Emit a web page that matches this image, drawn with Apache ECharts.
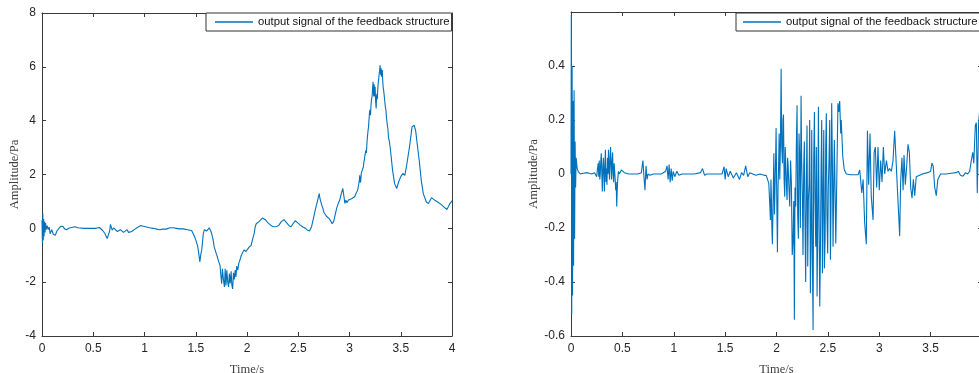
<!DOCTYPE html>
<html>
<head>
<meta charset="utf-8">
<script src="https://cdn.jsdelivr.net/npm/echarts@6/dist/echarts.min.js"></script>
<style>
html,body{margin:0;padding:0;background:#fff;}
#chart{width:979px;height:373px;}
</style>
</head>
<body>
<div id="chart"></div>
<script>
const seriesName = 'output signal of the feedback structure';
const xAxisName = 'Time/s';
const yAxisName = 'Amplitude/Pa';

const leftTime = [0.000,0.004,0.008,0.012,0.016,0.020,0.025,0.030,0.035,0.040,0.050,0.060,0.070,0.080,0.095,0.110,0.130,0.145,0.165,0.175,0.185,0.195,0.205,0.220,0.240,0.260,0.290,0.320,0.350,0.410,0.480,0.530,0.560,0.590,0.615,0.636,0.652,0.660,0.668,0.678,0.685,0.700,0.717,0.735,0.750,0.765,0.780,0.795,0.810,0.830,0.845,0.860,0.875,0.890,0.910,0.930,0.960,0.990,1.020,1.050,1.085,1.120,1.150,1.180,1.210,1.250,1.280,1.310,1.340,1.380,1.420,1.460,1.490,1.510,1.520,1.530,1.540,1.550,1.558,1.574,1.585,1.597,1.605,1.616,1.632,1.645,1.655,1.668,1.680,1.690,1.700,1.710,1.720,1.730,1.737,1.745,1.753,1.760,1.770,1.780,1.787,1.795,1.803,1.812,1.820,1.828,1.836,1.845,1.852,1.860,1.868,1.876,1.885,1.892,1.900,1.910,1.920,1.930,1.945,1.960,1.970,1.980,1.990,2.000,2.020,2.040,2.055,2.070,2.080,2.090,2.105,2.120,2.135,2.150,2.165,2.180,2.200,2.230,2.250,2.270,2.290,2.310,2.335,2.360,2.375,2.390,2.410,2.430,2.450,2.470,2.490,2.520,2.545,2.570,2.590,2.610,2.630,2.650,2.665,2.680,2.690,2.698,2.705,2.712,2.720,2.730,2.740,2.750,2.760,2.775,2.790,2.805,2.820,2.830,2.845,2.860,2.875,2.890,2.905,2.920,2.935,2.945,2.955,2.965,2.975,2.990,3.005,3.020,3.035,3.050,3.065,3.080,3.088,3.095,3.100,3.105,3.110,3.115,3.120,3.127,3.135,3.140,3.145,3.152,3.160,3.165,3.170,3.175,3.180,3.185,3.190,3.195,3.200,3.205,3.210,3.215,3.220,3.225,3.230,3.234,3.237,3.240,3.243,3.247,3.250,3.255,3.260,3.264,3.268,3.272,3.275,3.280,3.285,3.290,3.295,3.298,3.302,3.305,3.309,3.312,3.316,3.320,3.324,3.328,3.334,3.340,3.345,3.350,3.355,3.360,3.365,3.370,3.375,3.380,3.390,3.400,3.420,3.440,3.460,3.480,3.500,3.520,3.540,3.560,3.590,3.610,3.630,3.645,3.660,3.680,3.700,3.720,3.750,3.770,3.800,3.830,3.860,3.890,3.920,3.950,3.980,4.000];
const leftAmp = [0.30,-0.55,0.56,-0.45,0.35,-0.30,0.25,-0.15,0.20,-0.05,0.10,-0.05,0.05,-0.20,-0.05,-0.22,-0.26,-0.10,0.00,-0.05,0.08,0.02,0.07,-0.02,-0.05,0.00,0.03,0.06,0.02,0.00,0.00,0.00,0.03,-0.07,-0.20,-0.38,-0.45,-0.10,0.15,0.02,-0.07,0.02,0.00,-0.12,-0.17,-0.05,-0.07,-0.15,-0.13,-0.05,-0.15,-0.20,-0.12,-0.13,-0.02,0.03,0.10,0.08,0.05,0.02,0.00,-0.03,-0.05,-0.03,-0.03,0.02,0.02,0.00,-0.02,-0.02,-0.05,-0.08,-0.32,-0.55,-0.69,-0.95,-1.25,-0.95,-0.82,-0.19,-0.05,0.00,-0.10,-0.07,0.02,-0.08,-0.19,-0.40,-0.69,-0.75,-0.94,-1.05,-1.19,-1.30,-1.38,-1.75,-2.06,-1.50,-1.90,-2.18,-1.50,-2.12,-1.56,-2.00,-2.18,-1.68,-2.05,-1.60,-2.10,-2.25,-1.65,-1.90,-1.55,-1.81,-1.40,-1.55,-1.30,-1.19,-1.00,-0.94,-0.80,-0.75,-0.86,-0.82,-0.70,-0.63,-0.40,-0.19,0.05,0.17,0.20,0.26,0.30,0.38,0.37,0.32,0.22,0.12,0.07,0.06,0.07,0.11,0.25,0.32,0.28,0.19,0.10,0.06,0.18,0.28,0.22,0.12,0.05,0.00,-0.07,-0.10,0.06,0.40,0.67,0.90,1.05,1.20,1.29,1.10,1.05,0.85,0.75,0.60,0.55,0.45,0.42,0.35,0.25,0.17,0.25,0.50,0.75,0.92,1.05,1.29,1.48,1.20,0.93,1.05,0.95,1.05,1.00,1.10,1.12,1.17,1.30,1.42,1.60,1.75,1.97,1.70,1.78,2.05,2.10,2.00,2.28,2.45,2.55,2.75,2.90,2.80,3.15,3.40,3.60,3.75,4.01,4.30,4.40,4.20,4.60,4.80,4.88,5.20,5.44,5.00,4.90,5.35,5.30,4.90,5.26,4.70,4.45,4.90,5.00,4.80,5.13,5.40,5.56,5.75,5.90,6.06,5.80,5.70,5.95,5.63,5.80,5.88,5.50,5.26,5.10,4.88,4.95,4.50,4.40,4.14,4.20,3.80,3.70,3.39,3.20,2.90,2.16,1.66,1.48,1.73,1.92,2.04,1.97,2.40,3.15,3.77,3.83,3.64,3.15,2.53,1.78,1.29,0.98,0.92,1.14,1.05,0.98,0.90,0.80,0.70,0.92,1.02];

const rightTime = [0.000,0.003,0.007,0.011,0.015,0.020,0.025,0.030,0.035,0.040,0.045,0.050,0.060,0.070,0.090,0.120,0.160,0.200,0.230,
0.250,0.258,0.265,0.270,0.275,0.280,0.285,0.290,0.295,0.300,0.305,0.310,0.315,0.320,0.325,0.330,0.335,0.340,0.345,0.350,0.355,0.360,0.365,0.370,0.375,0.380,0.385,0.390,0.395,0.400,0.405,0.410,0.415,0.420,0.425,0.430,0.435,0.440,0.445,0.450,0.455,0.462,0.470,
0.490,0.520,0.560,0.600,0.650,0.685,0.700,0.710,0.720,0.730,0.740,0.750,0.770,0.800,0.880,0.920,0.935,0.945,0.955,0.965,0.975,0.985,0.995,1.010,1.030,1.050,1.080,1.200,1.260,1.280,1.300,1.320,1.400,1.470,1.490,1.500,1.510,1.530,1.550,1.580,1.610,1.640,1.660,1.680,1.700,1.720,1.740,1.770,1.800,1.840,1.880,1.900,
1.925,1.933,1.941,1.946,1.950,1.955,1.960,1.967,1.974,1.980,1.985,1.991,1.996,2.003,2.009,2.015,2.020,2.026,2.032,2.038,2.045,2.051,2.058,2.063,2.068,2.074,2.080,2.085,2.090,2.097,2.103,2.108,2.113,2.121,
2.129,2.137,2.145,2.153,2.161,2.168,2.174,2.180,2.187,2.193,2.200,2.206,2.213,2.219,2.226,2.232,2.239,2.245,2.252,2.258,2.265,2.271,2.278,2.284,2.291,2.297,2.304,2.310,2.317,2.323,2.330,2.336,2.343,2.349,2.356,2.362,2.369,2.375,2.382,2.388,2.395,2.401,2.408,2.414,2.421,2.427,2.434,2.440,2.447,2.453,2.460,2.466,2.473,2.479,2.485,2.491,2.498,2.504,2.511,2.518,2.525,2.531,2.537,2.544,2.550,2.557,2.563,
2.577,2.598,2.606,2.615,2.625,2.630,2.645,2.660,2.680,2.720,2.794,2.810,2.830,2.843,2.858,2.874,2.885,2.897,2.910,2.922,2.940,2.950,2.962,2.975,2.988,3.000,3.014,3.027,3.040,3.053,3.070,3.085,3.100,3.118,3.134,3.150,3.163,3.176,3.189,3.199,3.208,3.221,3.232,3.241,3.254,3.267,3.280,3.293,3.306,3.319,3.332,3.345,3.360,3.377,3.420,3.470,3.500,3.513,3.525,3.540,3.555,3.570,3.597,3.650,3.700,3.750,3.770,3.790,3.815,3.840,3.860,3.880,3.896,3.910,3.920,3.935,3.945,3.954,3.967,3.980];
const rightAmp = [0.00,0.59,-0.52,0.40,-0.45,0.27,-0.34,0.31,-0.24,0.12,-0.05,0.06,0.02,0.01,0.00,0.003,0.005,0.00,0.005,
-0.01,0.02,0.04,-0.01,0.05,-0.02,0.00,0.05,0.077,0.00,-0.065,0.02,0.06,0.00,-0.065,0.04,0.09,-0.03,0.02,-0.04,0.06,0.00,0.09,0.02,-0.02,0.06,0.10,0.03,-0.02,0.05,0.08,0.00,-0.03,0.04,0.01,-0.02,-0.06,-0.03,-0.12,-0.06,-0.02,0.01,0.00,
0.015,0.005,0.00,0.00,0.00,0.005,0.05,-0.01,-0.06,0.03,-0.02,0.00,-0.005,0.00,0.00,0.01,0.03,-0.02,0.035,-0.03,0.02,-0.025,0.01,-0.01,0.01,-0.005,0.00,0.00,0.005,0.02,-0.005,0.00,0.00,0.00,0.027,-0.02,0.02,-0.01,0.01,-0.015,0.005,-0.02,0.005,-0.005,0.03,-0.01,0.005,0.00,-0.005,0.00,-0.005,-0.005,
-0.035,-0.10,-0.17,-0.02,-0.08,-0.20,-0.26,-0.10,0.077,-0.15,-0.06,0.05,0.17,-0.10,-0.29,-0.05,0.02,0.15,-0.02,0.10,0.39,0.10,0.04,0.20,0.22,-0.02,-0.084,0.10,0.04,-0.05,-0.096,0.06,0.033,-0.05,
-0.12,0.05,-0.035,-0.30,-0.24,-0.10,-0.54,-0.05,-0.12,0.10,0.255,-0.15,-0.24,0.15,0.064,-0.20,0.29,0.05,-0.084,-0.30,0.027,0.12,-0.195,-0.40,-0.022,0.18,-0.343,-0.10,-0.035,0.20,-0.442,-0.25,0.163,-0.30,-0.578,0.05,0.23,-0.10,-0.269,0.10,-0.454,-0.20,0.249,-0.15,-0.491,-0.30,0.027,0.20,-0.368,-0.10,0.163,-0.35,-0.24,0.10,0.225,-0.15,-0.294,-0.05,0.052,0.20,-0.318,-0.10,0.262,0.05,-0.269,-0.05,0.126,
-0.257,0.262,0.23,0.27,0.15,0.20,0.065,0.015,0.00,-0.003,-0.003,0.015,-0.07,-0.02,-0.18,-0.26,0.16,-0.04,0.15,-0.08,-0.17,0.08,0.10,-0.05,0.10,-0.06,0.05,-0.03,0.10,0.00,0.05,0.01,0.02,0.01,0.05,0.16,0.16,-0.05,-0.15,-0.23,-0.03,0.06,-0.06,0.07,-0.04,0.03,0.11,0.08,-0.05,-0.09,-0.02,-0.08,-0.01,-0.005,0.00,0.005,0.01,0.04,0.03,-0.05,-0.08,-0.02,0.00,0.00,0.003,0.005,0.01,-0.005,-0.008,0.005,0.00,0.01,0.05,0.08,0.04,0.18,0.19,-0.07,0.19,0.25];

const leftData = leftTime.map((t, i) => [t, leftAmp[i]]);
const rightData = rightTime.map((t, i) => [t, rightAmp[i]]);

const axisColor = '#3a3a3a';
const textColor = '#262626';
const lineColor = '#0072BD';
const sans = 'Liberation Sans, Arial, sans-serif';
const serif = 'Liberation Serif, Times New Roman, serif';

function xBottom(grid) {
  return {
    type: 'value', gridIndex: grid, position: 'bottom', min: 0, max: 4, interval: 0.5,
    axisLine: { show: true, onZero: false, lineStyle: { color: axisColor, width: 1 } },
    axisTick: { show: true, inside: true, length: 4, lineStyle: { color: axisColor } },
    axisLabel: { show: true, margin: 7, fontSize: 12, color: textColor, fontFamily: sans, hideOverlap: false },
    splitLine: { show: false },
    name: xAxisName, nameLocation: 'middle', nameGap: 27,
    nameTextStyle: { fontFamily: serif, fontSize: 12.5, color: '#404040' }
  };
}
function xTop(grid) {
  return {
    type: 'value', gridIndex: grid, position: 'top', min: 0, max: 4, interval: 0.5,
    axisLine: { show: true, onZero: false, lineStyle: { color: axisColor, width: 1 } },
    axisTick: { show: true, inside: true, length: 4, lineStyle: { color: axisColor } },
    axisLabel: { show: false }, splitLine: { show: false }
  };
}
function yLeft(grid, min, max, interval, gap, hideTop) {
  return {
    type: 'value', gridIndex: grid, position: 'left', min: min, max: max, interval: interval,
    axisLine: { show: true, onZero: false, lineStyle: { color: axisColor, width: 1 } },
    axisTick: { show: true, inside: true, length: 4, lineStyle: { color: axisColor } },
    axisLabel: {
      show: true, margin: 6, fontSize: 12, color: textColor, fontFamily: sans,
      formatter: function (v) { if (hideTop && Math.abs(v - max) < 1e-9) return ''; return String(Math.round(v * 1000) / 1000); }
    },
    splitLine: { show: false },
    name: yAxisName, nameLocation: 'middle', nameGap: gap, nameRotate: 90,
    nameTextStyle: { fontFamily: serif, fontSize: 12.5, color: '#404040' }
  };
}
function yRight(grid, min, max, interval) {
  return {
    type: 'value', gridIndex: grid, position: 'right', min: min, max: max, interval: interval,
    axisLine: { show: true, onZero: false, lineStyle: { color: axisColor, width: 1 } },
    axisTick: { show: true, inside: true, length: 4, lineStyle: { color: axisColor } },
    axisLabel: { show: false }, splitLine: { show: false }
  };
}
function legendAt(left, padding) {
  return {
    show: true, left: left, top: 13, orient: 'horizontal',
    padding: padding, itemWidth: 38, itemHeight: 1.4, itemGap: 4,
    backgroundColor: '#fff', borderColor: '#333', borderWidth: 1, borderRadius: 0,
    textStyle: { fontFamily: sans, fontSize: 11.3, color: '#111', lineHeight: 12 },
    data: [{ name: seriesName, icon: 'rect', itemStyle: { color: lineColor } }], selectedMode: false
  };
}

const chart = echarts.init(document.getElementById('chart'), null, { renderer: 'canvas' });
chart.setOption({
  animation: false,
  backgroundColor: '#fff',
  grid: [
    { left: 42, top: 13, width: 410, height: 323, containLabel: false, outerBoundsMode: 'none' },
    { left: 571, top: 12, width: 411, height: 324, containLabel: false, outerBoundsMode: 'none' }
  ],
  legend: [legendAt(206, [3, 2, 3, 9]), legendAt(736, [3, 20, 3, 7])],
  xAxis: [xBottom(0), xTop(0), xBottom(1), xTop(1)],
  yAxis: [yLeft(0, -4, 8, 2, 19, false), yRight(0, -4, 8, 2), yLeft(1, -0.6, 0.6, 0.2, 30, true), yRight(1, -0.6, 0.6, 0.2)],
  series: [
    { name: seriesName, type: 'line', xAxisIndex: 0, yAxisIndex: 0, data: leftData, symbol: 'none', showSymbol: false,
      lineStyle: { width: 1.1, color: lineColor }, itemStyle: { color: lineColor } },
    { name: seriesName, type: 'line', xAxisIndex: 2, yAxisIndex: 2, data: rightData, symbol: 'none', showSymbol: false,
      lineStyle: { width: 1.1, color: lineColor }, itemStyle: { color: lineColor } }
  ]
});
</script>
</body>
</html>
